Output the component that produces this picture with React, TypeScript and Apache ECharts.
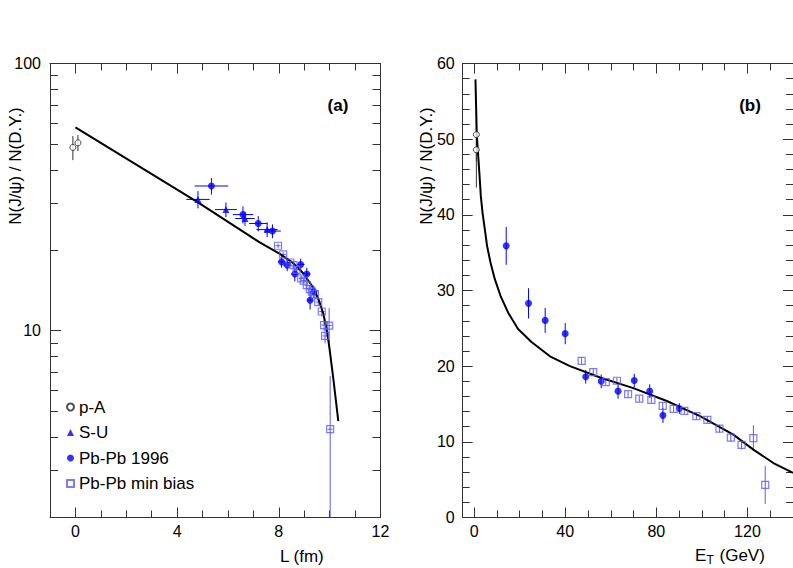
import React, { useEffect, useRef } from 'react';
import * as echarts from 'echarts';

const FONT = '"Liberation Sans", Arial, Helvetica, sans-serif';

// ---- tick labels ----
const L_MAJOR_TICKS = [0, 4, 8, 12];
const L_MINOR_TICKS = [0, 1, 2, 3, 4, 5, 6, 7, 8, 9, 10, 11];
const LOG_MAJOR_TICKS = [10, 100];
const LOG_MINOR_TICKS = [3, 4, 5, 6, 7, 8, 9, 20, 30, 40, 50, 60, 70, 80, 90];
const ET_MAJOR_TICKS = [0, 40, 80, 120];
const ET_MINOR_TICKS = [0, 10, 20, 30, 40, 50, 60, 70, 80, 90, 100, 110, 120, 130];
const LIN_MAJOR_TICKS = [0, 10, 20, 30, 40, 50, 60];
const LIN_MINOR_TICKS = [2, 4, 6, 8, 12, 14, 16, 18, 22, 24, 26, 28, 32, 34, 36, 38, 42, 44, 46, 48, 52, 54, 56, 58];

// ---- panel (a): vs L (fm) ----
const PA_L = [-0.1, 0.1];
const PA_RATIO_A = [48.5, 50.5];
const PA_ERR = [5, 3.5];

const SU_L = [4.82, 5.92, 6.67, 7.54];
const SU_RATIO = [31.0, 28.4, 26.3, 23.9];
const SU_ERR = [2.3, 1.8, 1.6, 1.5];
const SU_LERR = [0.46, 0.43, 0.38, 0.42];

const PB96_L = [5.35, 6.59, 7.19, 7.75, 8.11, 8.33, 8.63, 8.86, 9.1, 9.23, 9.38];
const PB96_RATIO_A = [34.8, 27.2, 25.2, 23.6, 18.1, 17.6, 16.3, 17.7, 16.3, 13.0, 14.0];
const PB96_LERR = [0.66, 0.4, 0.36, 0.33, 0.15, 0.15, 0.15, 0.15, 0.15, 0.12, 0.12];
const PB96_ERR = [2.5, 2.0, 1.65, 1.4, 0.9, 0.9, 1.0, 0.9, 0.9, 1.0, 0.7];

const MB_L = [7.97, 8.17, 8.45, 8.58, 8.7, 8.88, 8.98, 9.1, 9.22, 9.3, 9.42, 9.55, 9.69, 9.78, 9.82, 9.98, 10.02];
const MB_RATIO_A = [20.8, 19.3, 18.0, 17.6, 16.9, 15.7, 15.4, 14.8, 14.3, 14.0, 13.7, 12.8, 11.8, 10.5, 9.56, 10.45, 4.28];
const MB_LERR = [0.1, 0.1, 0.1, 0.1, 0.1, 0.1, 0.1, 0.1, 0.1, 0.1, 0.1, 0.1, 0.1, 0.1, 0.1, 0.1, 0.1];
const MB_ERR = [0.4, 0.4, 0.4, 0.4, 0.4, 0.4, 0.4, 0.4, 0.4, 0.4, 0.4, 0.4, 0.5, 0.5, 0.6, 1.7, 2.5];

const FIT_L = [0, 4.82, 7.25, 8.04, 8.57, 8.96, 9.29, 9.55, 9.75, 9.89, 10.0, 10.15, 10.34];
const FIT_A = [57.7, 30.2, 21.4, 19.4, 17.9, 16.4, 14.8, 13.2, 11.6, 10.06, 8.5, 6.55, 4.59];

// ---- panel (b): vs E_T (GeV) ----
const PA_ET = [1, 1];
const PA_RATIO_B = [48.6, 50.6];

const PB96_ET = [14.1, 23.9, 31.2, 40.0, 49.0, 55.8, 63.2, 70.3, 77.1, 82.9, 90.1];
const PB96_RATIO_B = [35.9, 28.3, 26.05, 24.3, 18.6, 18.0, 16.7, 18.1, 16.7, 13.5, 14.4];

const MB_ET = [47.2, 52.3, 57.8, 62.7, 67.6, 72.5, 77.8, 82.8, 87.6, 92.3, 97.6, 102.4, 107.7, 112.7, 117.4, 122.6, 127.8];
const MB_RATIO_B = [20.7, 19.2, 17.9, 18.07, 16.3, 15.7, 15.55, 14.75, 14.35, 14.1, 13.4, 12.9, 11.75, 10.55, 9.6, 10.5, 4.3];

const FIT_ET = [0.6, 1.2, 2.5, 2.95, 3.7, 4.7, 5.7, 7.2, 9.1, 11.6, 14.9, 19.3, 25.2, 33.3, 42.1, 55.3, 69.9, 84.6, 99.2, 113.8, 122.6, 131.4, 140];
const FIT_B = [57.9, 50.5, 44.7, 42.5, 40.3, 38.1, 35.9, 33.7, 31.5, 29.3, 27.1, 24.9, 23.2, 21.3, 20.0, 18.5, 17.1, 15.4, 13.4, 10.95, 8.97, 7.2, 5.9];

const L_RANGE = [-1, 12];
const LOG_RANGE = [2, 100];
const ET_RANGE = [-5, 140];
const LIN_RANGE = [0, 60];

const BLUE = '#0000ff';
const LIGHT_BLUE = '#5a5aff';
const FRAME = '#333333';

const zip = (xs: number[], ys: number[]) => xs.map((x, i) => [x, ys[i]]);
const zipErr = (xs: number[], ys: number[], ex: number[] | null, ey: number[]) =>
  xs.map((x, i) => [x, ys[i], ex ? ex[i] : 0, ey[i]]);

function makeAxis(
  gridIndex: number,
  position: string,
  type: string,
  range: number[],
  ticks: number[],
  len: number,
  showLabel: boolean,
  showLine: boolean,
  labelMargin: number
) {
  return {
    gridIndex,
    position,
    type,
    min: range[0],
    max: range[1],
    ...(type === 'log' ? { logBase: 10 } : {}),
    axisLine: { show: showLine, onZero: false, lineStyle: { color: FRAME, width: 1 } },
    axisTick: { show: true, inside: true, length: len, customValues: ticks, lineStyle: { color: FRAME, width: 1 } },
    axisLabel: {
      show: showLabel,
      customValues: ticks,
      margin: labelMargin,
      color: '#000',
      fontSize: 16,
      fontFamily: FONT,
      formatter: (v: number) => String(Math.round(v * 1000) / 1000),
    },
    minorTick: { show: false },
    splitLine: { show: false },
    minorSplitLine: { show: false },
  };
}

function errorSeries(xIdx: number, yIdx: number, rows: number[][], color: string, yFloor: number) {
  return {
    type: 'custom',
    xAxisIndex: xIdx,
    yAxisIndex: yIdx,
    clip: true,
    silent: true,
    z: 2,
    encode: { x: 0, y: 1 },
    data: rows,
    renderItem: (params: any, api: any) => {
      const x = api.value(0);
      const y = api.value(1);
      const ex = api.value(2);
      const ey = api.value(3);
      const lo = Math.max(y - ey, yFloor);
      const p1 = api.coord([x, lo]);
      const p2 = api.coord([x, y + ey]);
      const children: any[] = [
        {
          type: 'line',
          shape: { x1: p1[0], y1: p1[1], x2: p2[0], y2: p2[1] },
          style: { stroke: color, lineWidth: 1 },
        },
      ];
      if (ex > 0) {
        const h1 = api.coord([x - ex, y]);
        const h2 = api.coord([x + ex, y]);
        children.push({
          type: 'line',
          shape: { x1: h1[0], y1: h1[1], x2: h2[0], y2: h2[1] },
          style: { stroke: color, lineWidth: 1 },
        });
      }
      return { type: 'group', children };
    },
  };
}

export default function App() {
  const ref = useRef<HTMLDivElement>(null);

  useEffect(() => {
    if (!ref.current) return;
    const chart = echarts.init(ref.current, null, { renderer: 'svg' });

    const xAxis = [
      makeAxis(0, 'bottom', 'value', L_RANGE, L_MAJOR_TICKS, 10, true, true, 6),
      makeAxis(0, 'bottom', 'value', L_RANGE, L_MINOR_TICKS, 7, false, false, 6),
      makeAxis(0, 'top', 'value', L_RANGE, L_MAJOR_TICKS, 10, false, true, 6),
      makeAxis(0, 'top', 'value', L_RANGE, L_MINOR_TICKS, 7, false, false, 6),
      makeAxis(1, 'bottom', 'value', ET_RANGE, ET_MAJOR_TICKS, 10, true, true, 6),
      makeAxis(1, 'bottom', 'value', ET_RANGE, ET_MINOR_TICKS, 7, false, false, 6),
      makeAxis(1, 'top', 'value', ET_RANGE, ET_MAJOR_TICKS, 10, false, true, 6),
      makeAxis(1, 'top', 'value', ET_RANGE, ET_MINOR_TICKS, 7, false, false, 6),
    ];
    const yAxis = [
      makeAxis(0, 'left', 'log', LOG_RANGE, LOG_MAJOR_TICKS, 11, true, true, 9),
      makeAxis(0, 'left', 'log', LOG_RANGE, LOG_MINOR_TICKS, 8, false, false, 9),
      makeAxis(0, 'right', 'log', LOG_RANGE, LOG_MAJOR_TICKS, 11, false, true, 9),
      makeAxis(0, 'right', 'log', LOG_RANGE, LOG_MINOR_TICKS, 8, false, false, 9),
      makeAxis(1, 'left', 'value', LIN_RANGE, LIN_MAJOR_TICKS, 10, true, true, 8),
      makeAxis(1, 'left', 'value', LIN_RANGE, LIN_MINOR_TICKS, 7, false, false, 8),
      makeAxis(1, 'right', 'value', LIN_RANGE, LIN_MAJOR_TICKS, 10, false, true, 8),
      makeAxis(1, 'right', 'value', LIN_RANGE, LIN_MINOR_TICKS, 7, false, false, 8),
    ];

    const pAStyle = { color: '#ffffff', borderColor: '#222', borderWidth: 1 };
    const mbStyle = { color: 'rgba(0,0,0,0)', borderColor: LIGHT_BLUE, borderWidth: 1.2 };

    const series: any[] = [
      // ----- panel a -----
      errorSeries(0, 0, zipErr(PA_L, PA_RATIO_A, null, PA_ERR), '#333', LOG_RANGE[0]),
      errorSeries(0, 0, zipErr(SU_L, SU_RATIO, SU_LERR, SU_ERR), BLUE, LOG_RANGE[0]),
      errorSeries(0, 0, zipErr(PB96_L, PB96_RATIO_A, PB96_LERR, PB96_ERR), BLUE, LOG_RANGE[0]),
      errorSeries(0, 0, zipErr(MB_L, MB_RATIO_A, MB_LERR, MB_ERR), LIGHT_BLUE, LOG_RANGE[0]),
      {
        type: 'line', name: 'fitA', xAxisIndex: 0, yAxisIndex: 0,
        data: zip(FIT_L, FIT_A), symbol: 'none', smooth: false,
        lineStyle: { color: '#000', width: 2, join: 'round' }, z: 4, silent: true,
      },
      {
        type: 'scatter', name: 'p-A', xAxisIndex: 0, yAxisIndex: 0,
        data: zip(PA_L, PA_RATIO_A), symbol: 'circle', symbolSize: 6, itemStyle: pAStyle, z: 5,
      },
      {
        type: 'scatter', name: 'S-U', xAxisIndex: 0, yAxisIndex: 0,
        data: zip(SU_L, SU_RATIO), symbol: 'triangle', symbolSize: 7, itemStyle: { color: BLUE }, z: 5,
      },
      {
        type: 'scatter', name: 'Pb-Pb 1996', xAxisIndex: 0, yAxisIndex: 0,
        data: zip(PB96_L, PB96_RATIO_A), symbol: 'circle', symbolSize: 7, itemStyle: { color: BLUE }, z: 5,
      },
      {
        type: 'scatter', name: 'Pb-Pb min bias', xAxisIndex: 0, yAxisIndex: 0,
        data: zip(MB_L, MB_RATIO_A), symbol: 'rect', symbolSize: 7, itemStyle: mbStyle, z: 5,
      },
      // ----- panel b -----
      errorSeries(4, 4, zipErr(PA_ET, PA_RATIO_B, null, PA_ERR), '#333', LIN_RANGE[0]),
      errorSeries(4, 4, zipErr(PB96_ET, PB96_RATIO_B, null, PB96_ERR), BLUE, LIN_RANGE[0]),
      errorSeries(4, 4, zipErr(MB_ET, MB_RATIO_B, null, MB_ERR), LIGHT_BLUE, LIN_RANGE[0]),
      {
        type: 'line', name: 'fitB', xAxisIndex: 4, yAxisIndex: 4,
        data: zip(FIT_ET, FIT_B), symbol: 'none', smooth: false,
        lineStyle: { color: '#000', width: 2, join: 'round' }, z: 4, silent: true,
      },
      {
        type: 'scatter', name: 'p-A', xAxisIndex: 4, yAxisIndex: 4,
        data: zip(PA_ET, PA_RATIO_B), symbol: 'circle', symbolSize: 6, itemStyle: pAStyle, z: 5,
      },
      {
        type: 'scatter', name: 'Pb-Pb 1996', xAxisIndex: 4, yAxisIndex: 4,
        data: zip(PB96_ET, PB96_RATIO_B), symbol: 'circle', symbolSize: 7, itemStyle: { color: BLUE }, z: 5,
      },
      {
        type: 'scatter', name: 'Pb-Pb min bias', xAxisIndex: 4, yAxisIndex: 4,
        data: zip(MB_ET, MB_RATIO_B), symbol: 'rect', symbolSize: 7, itemStyle: mbStyle, z: 5,
      },
    ];

    const yTitle = (x: number) => ({
      type: 'text',
      x,
      y: 166,
      rotation: Math.PI / 2,
      style: {
        text: 'N(J/ψ) / N(D.Y.)',
        fontSize: 17,
        fontFamily: FONT,
        fill: '#000',
        align: 'center',
        verticalAlign: 'middle',
      },
    });

    const txt = (text: string, x: number, y: number, size: number, bold = false, align = 'left') => ({
      type: 'text',
      x,
      y,
      style: {
        text,
        fontSize: size,
        fontFamily: FONT,
        fontWeight: bold ? 'bold' : 'normal',
        fill: '#000',
        align,
        verticalAlign: 'middle',
      },
    });

    chart.setOption({
      animation: false,
      backgroundColor: '#ffffff',
      textStyle: { fontFamily: FONT },
      grid: [
        { left: 50, top: 63.5, width: 330.5, height: 454 },
        { left: 462.7, top: 63.5, width: 330.3, height: 454 },
      ],
      xAxis,
      yAxis,
      legend: {
        orient: 'vertical',
        left: 61,
        top: 393.5,
        itemWidth: 7,
        itemHeight: 7,
        itemGap: 8.5,
        selectedMode: false,
        textStyle: { fontSize: 17, fontFamily: FONT, color: '#000', lineHeight: 17 },
        data: [
          { name: 'p-A', icon: 'circle' },
          { name: 'S-U', icon: 'triangle' },
          { name: 'Pb-Pb 1996', icon: 'circle' },
          { name: 'Pb-Pb min bias', icon: 'rect' },
        ],
      },
      graphic: [
        yTitle(15),
        yTitle(426),
        txt('(a)', 338, 105, 17, true, 'center'),
        txt('(b)', 750, 105, 17, true, 'center'),
        txt('L (fm)', 280, 556, 17),
        txt('E', 695, 555, 17),
        txt('T', 706.5, 560, 12),
        txt('(GeV)', 719.5, 555, 17),
      ],
      series,
    });

    return () => chart.dispose();
  }, []);

  return (
    <div
      ref={ref}
      style={{ position: 'fixed', left: 0, top: 0, width: 793, height: 568, background: '#fff' }}
    />
  );
}
